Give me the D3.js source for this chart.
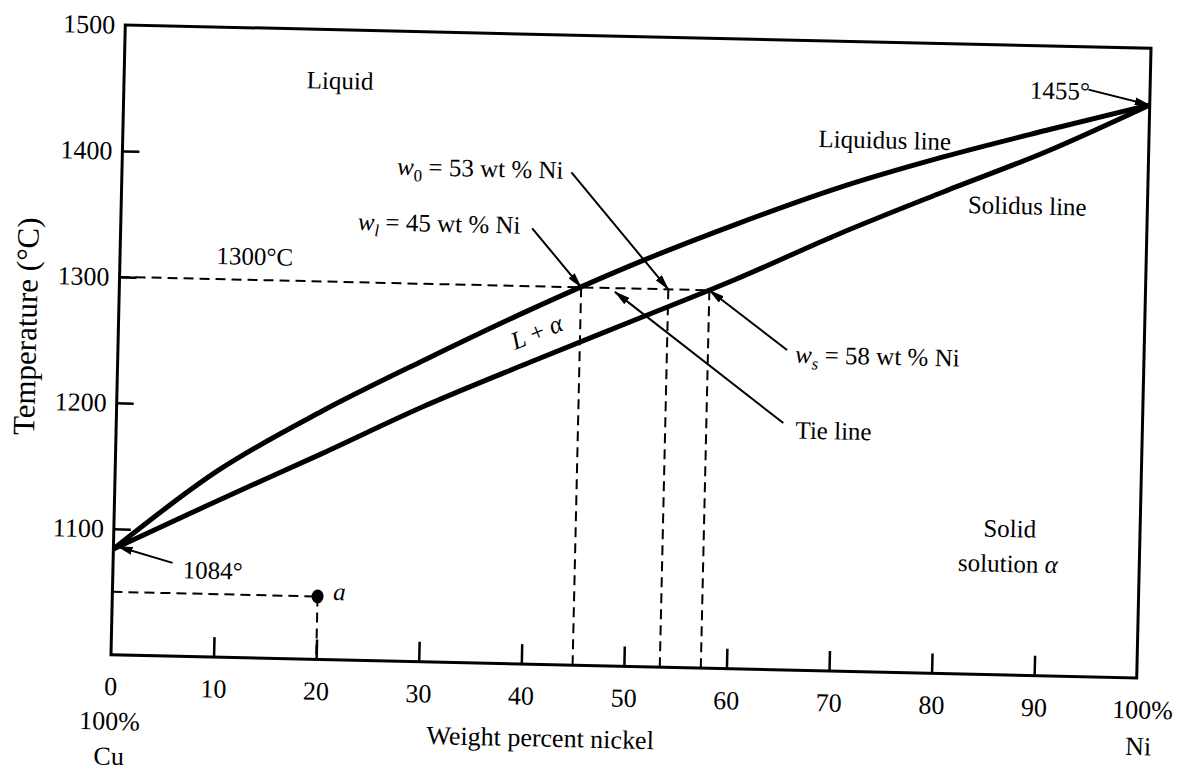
<!DOCTYPE html>
<html>
<head>
<meta charset="utf-8">
<script src="https://cdn.jsdelivr.net/npm/d3@7"></script>
<style>
    body { margin: 0; background: #fff; }
    svg { display: block; font-family: 'Liberation Serif', 'Times New Roman', serif; }
</style>
</head>
<body>
<div id="chart"></div>
<script>
const width = 1184;
const height = 772;

// composition in wt % Ni
const nickel = [0, 10, 20, 30, 40, 50, 60, 70, 80, 90, 100];
// phase boundaries, deg C
const liquidus = [1084, 1148, 1197, 1240, 1281, 1319, 1353, 1384, 1410, 1433, 1455];
const solidus = [1084, 1124, 1163, 1203, 1239, 1274, 1309, 1347, 1382, 1416, 1455];

const tempTicks = [1100, 1200, 1300, 1400, 1500];
const nickelTicks = [0, 10, 20, 30, 40, 50, 60, 70, 80, 90, 100];
const nickelTickLabels = ['0', '10', '20', '30', '40', '50', '60', '70', '80', '90', '100%'];

// tie line at 1300 C: w_l, w_0, w_s
const tieTemp = 1300;
const tieNickel = [45, 53.5, 57.5];
const pointA = [20, 1050];

const meltNi = [100, 1455];

// the scan is tilted a little, so the whole drawing is turned
const tilt = 1.3;

const svg = d3.select('#chart').append('svg')
    .attr('width', width)
    .attr('height', height);

const defs = svg.append('defs');
defs.append('marker')
    .attr('id', 'head')
    .attr('markerUnits', 'userSpaceOnUse')
    .attr('viewBox', '0 0 16 8')
    .attr('markerWidth', 16)
    .attr('markerHeight', 8)
    .attr('refX', 15)
    .attr('refY', 4)
    .attr('orient', 'auto')
    .append('path')
    .attr('d', 'M0,0 L16,4 L0,8 Z')
    .attr('fill', '#000');

const x = d3.scaleLinear().domain([0, 100]).range([118, 1144]);
const y = d3.scaleLinear().domain([1000, 1500]).range([666.5, 36.5]);

const g = svg.append('g')
    .attr('transform', `rotate(${tilt}, 631, 351.5)`);

// frame
g.append('rect')
    .attr('x', x(0))
    .attr('y', y(1500))
    .attr('width', x(100) - x(0))
    .attr('height', y(1000) - y(1500))
    .attr('fill', 'none')
    .attr('stroke', '#000')
    .attr('stroke-width', 3);

const yAxis = g.append('g')
    .attr('transform', `translate(${x(0)},0)`)
    .call(d3.axisLeft(y).tickValues(tempTicks).tickFormat(d3.format('d'))
        .tickSizeInner(-17).tickSizeOuter(0).tickPadding(10));

const xAxis = g.append('g')
    .attr('transform', `translate(0,${y(1000)})`)
    .call(d3.axisBottom(x).tickValues(nickelTicks).tickSizeInner(-20).tickSizeOuter(0).tickPadding(22)
        .tickFormat((d, i) => nickelTickLabels[i]));

[xAxis, yAxis].forEach(a => {
    a.select('.domain').remove();
    a.selectAll('line').attr('stroke', '#000').attr('stroke-width', 2.5);
    a.selectAll('text')
        .attr('fill', '#000')
        .attr('font-family', 'Liberation Serif')
        .attr('font-size', 26);
});
xAxis.selectAll('.tick').filter(d => d === 0 || d === 100).select('line').remove();
yAxis.selectAll('.tick').filter(d => d === 1500).select('line').remove();
xAxis.selectAll('.tick').filter(d => d === 100).select('text').attr('dx', 6);

// second row under the ends of the composition axis
const ends = g.append('g')
    .attr('font-size', 26)
    .attr('text-anchor', 'middle');
ends.append('text').attr('x', x(0)).attr('y', y(1000) + 75).text('100%');
ends.append('text').attr('x', x(0)).attr('y', y(1000) + 110).text('Cu');
ends.append('text').attr('x', x(100) + 3).attr('y', y(1000) + 77).text('Ni');

g.append('text')
    .attr('x', x(42))
    .attr('y', y(1000) + 82)
    .attr('text-anchor', 'middle')
    .attr('font-size', 26)
    .text('Weight percent nickel');

g.append('text')
    .attr('transform', `translate(36,340) rotate(-90)`)
    .attr('text-anchor', 'middle')
    .attr('font-size', 31)
    .text('Temperature (°C)');

// dashed guides
const dashed = g.append('g')
    .attr('stroke', '#000')
    .attr('stroke-width', 2)
    .attr('stroke-dasharray', '10,6')
    .attr('fill', 'none');
dashed.append('line')
    .attr('x1', x(0)).attr('x2', x(tieNickel[2]))
    .attr('y1', y(tieTemp)).attr('y2', y(tieTemp));
dashed.selectAll('.drop')
    .data(tieNickel)
    .enter().append('line')
    .attr('class', 'drop')
    .attr('x1', d => x(d)).attr('x2', d => x(d))
    .attr('y1', y(tieTemp)).attr('y2', y(1000));
dashed.append('line')
    .attr('x1', x(0)).attr('x2', x(pointA[0]))
    .attr('y1', y(pointA[1])).attr('y2', y(pointA[1]));
dashed.append('line')
    .attr('x1', x(pointA[0])).attr('x2', x(pointA[0]))
    .attr('y1', y(pointA[1])).attr('y2', y(1000));

// phase boundaries
const line = d3.line()
    .x((d, i) => x(nickel[i]))
    .y(d => y(d))
    .curve(d3.curveMonotoneX);

g.selectAll('.boundary')
    .data([liquidus, solidus])
    .enter().append('path')
    .attr('class', 'boundary')
    .attr('d', line)
    .attr('fill', 'none')
    .attr('stroke', '#000')
    .attr('stroke-width', 5)
    .attr('stroke-linejoin', 'round');

g.append('ellipse')
    .attr('cx', x(pointA[0]))
    .attr('cy', y(pointA[1]))
    .attr('rx', 6)
    .attr('ry', 7)
    .attr('fill', '#000');

// leaders: from label to the point they name
const leaders = [
    [[40.1, 1346], [tieNickel[0], tieTemp]],
    [[43.8, 1391], [tieNickel[1], tieTemp]],
    [[65.2, 1254], [tieNickel[2], tieTemp]],
    [[65, 1196], [48.3, 1297]],
    [[94, 1466], meltNi],
    [[5.8, 1074], [0.4, 1086]]
];
g.selectAll('.leader')
    .data(leaders)
    .enter().append('line')
    .attr('class', 'leader')
    .attr('x1', d => x(d[0][0])).attr('y1', d => y(d[0][1]))
    .attr('x2', d => x(d[1][0])).attr('y2', d => y(d[1][1]))
    .attr('stroke', '#000')
    .attr('stroke-width', 2)
    .attr('marker-end', 'url(#head)');

// labels, runs of [text, style]
const notes = [
    { at: [17.8, 1453], parts: [['Liquid']] },
    { at: [9.4, 1312], parts: [['1300°C']] },
    { at: [26.8, 1386], parts: [['w', 'i'], ['0', 'sub'], [' = 53 wt % Ni']] },
    { at: [23.1, 1341.5], parts: [['w', 'i'], ['l', 'isub'], [' = 45 wt % Ni']] },
    { at: [66, 1244], parts: [['w', 'i'], ['s', 'isub'], [' = 58 wt % Ni']] },
    { at: [66.2, 1184], parts: [['Tie line']] },
    { at: [67.8, 1415.6], parts: [['Liquidus line']] },
    { at: [82.5, 1366], parts: [['Solidus line']] },
    { at: [88.3, 1458], parts: [['1455°']] },
    { at: [6.8, 1062], parts: [['1084°']] },
    { at: [21.5, 1047.5], parts: [['a', 'i']] },
    { at: [87.3, 1109.6], parts: [['Solid']], anchor: 'middle' },
    { at: [87.2, 1081.8], parts: [['solution '], ['α', 'i']], anchor: 'middle' },
    { at: [41.1, 1257.5], parts: [['L', 'i'], [' + '], ['α', 'i']], anchor: 'middle', angle: -23.3 }
];

const labels = g.selectAll('.note')
    .data(notes)
    .enter().append('text')
    .attr('class', 'note')
    .attr('font-size', 25)
    .attr('text-anchor', d => d.anchor || 'start')
    .attr('transform', d => `translate(${x(d.at[0])},${y(d.at[1])}) rotate(${d.angle || 0})`);

labels.each(function (d) {
    const t = d3.select(this);
    let shift = 0;
    d.parts.forEach(([s, style]) => {
        const sub = style === 'sub' || style === 'isub';
        const span = t.append('tspan').text(s);
        if (style === 'i' || style === 'isub') span.attr('font-style', 'italic');
        if (sub) {
            span.attr('font-size', 17).attr('dy', 6);
            shift = 6;
        } else if (shift) {
            span.attr('dy', -shift);
            shift = 0;
        }
    });
});
</script>
</body>
</html>
